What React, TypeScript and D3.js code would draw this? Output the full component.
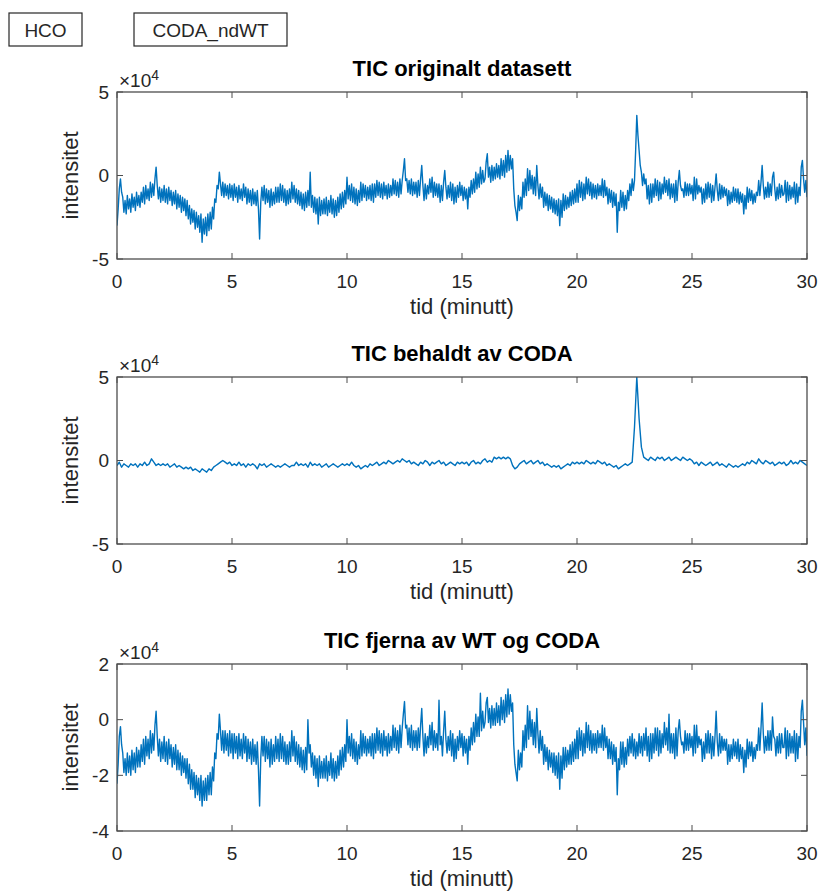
import * as d3 from "d3";

// values in units of 1e4; originalt and fjerna sampled every 0.05 min, behaldt every 0.1 min
const denseStep = 0.05;
const coarseStep = 0.1;

const originalTic = [
  -3.0, -2.0, -0.8, -0.2, -1.0, -1.3, -2.2, -1.5, -2.3, -1.2, -2.0, -1.4, -2.2, -1.1, -1.9, -1.3, -2.1, -1.0, -1.8, -1.2,
  -1.9, -1.0, -1.6, -0.7, -1.7, -0.6, -1.4, -0.8, -1.5, -0.4, -1.3, -0.5, -1.2, -0.2, 0.5, -0.6, -1.4, -0.7, -1.6, -0.8,
  -1.5, -0.6, -1.6, -0.8, -1.7, -0.7, -1.5, -0.9, -1.8, -1.0, -1.7, -0.9, -2.0, -1.1, -1.9, -1.2, -2.2, -1.3, -2.1, -1.4,
  -2.4, -1.5, -2.6, -1.8, -2.9, -2.0, -2.8, -2.1, -3.2, -2.2, -3.1, -2.4, -3.4, -2.3, -4.0, -2.6, -3.5, -2.5, -3.6, -2.3,
  -3.3, -2.2, -3.2, -1.9, -2.6, -1.4, -1.6, -0.6, -0.8, 0.2, -0.5, -1.2, -0.4, -1.3, -0.5, -1.2, -0.6, -1.4, -0.5, -1.3,
  -0.6, -1.5, -0.5, -1.3, -0.7, -1.6, -0.6, -1.4, -0.8, -1.5, -0.5, -1.3, -0.7, -1.7, -0.8, -1.6, -0.9, -1.8, -0.8, -1.7,
  -1.0, -1.8, -0.9, -2.0, -3.8, -1.6, -0.7, -1.5, -0.6, -1.7, -0.8, -1.6, -0.9, -1.9, -0.8, -1.8, -1.0, -1.7, -0.7, -1.6,
  -0.7, -1.6, -0.5, -1.5, -0.6, -1.6, -0.8, -1.8, -0.9, -1.7, -0.8, -1.6, -0.4, -1.4, -0.6, -1.6, -0.8, -1.7, -0.9, -1.8,
  -1.0, -2.0, -1.1, -2.1, -1.0, -1.9, -0.9, -1.8, 0.2, -1.9, -1.2, -2.2, -1.3, -2.3, -1.4, -2.9, -1.3, -2.4, -1.5, -2.3,
  -1.4, -2.3, -1.3, -2.4, -1.5, -2.2, -1.2, -2.3, -1.4, -2.5, -1.5, -2.4, -1.3, -2.2, -1.1, -2.0, -1.0, -1.9, -0.9, -1.7,
  -0.1, -1.4, -0.6, -1.5, -0.5, -1.6, -0.7, -1.7, -0.8, -1.8, -0.9, -1.6, -0.4, -1.5, -0.5, -1.3, -0.6, -1.5, -0.7, -1.4,
  -0.6, -1.5, -0.5, -1.6, -0.5, -1.3, -0.3, -1.2, -0.4, -1.3, -0.5, -1.4, -0.4, -1.2, -0.6, -1.4, -0.5, -1.3, -0.6, -1.2,
  -0.2, -1.1, -0.3, -1.2, -0.4, -1.3, -0.2, -1.1, -0.3, 0.3, 1.0, -0.3, -0.2, -1.0, -0.3, -1.1, -0.2, -1.2, -0.4, -1.1,
  -0.4, -1.3, -0.3, -1.2, -0.2, 0.6, -0.6, -1.5, -0.5, -1.4, -0.6, -1.1, -0.2, -1.0, -0.1, -1.3, -0.4, -1.2, -0.5, -1.3,
  -0.5, -1.6, -0.6, -1.5, -0.4, 0.3, -0.7, -1.4, -0.6, -1.3, -0.4, -1.5, -0.5, -1.7, -0.7, -1.6, -0.6, -1.3, -0.4, -1.2,
  -0.6, -1.5, -0.7, -1.4, -0.8, -2.0, -0.7, -1.3, -0.3, -1.1, -0.2, -1.0, 0.2, -0.8, 0.1, -0.7, 0.5, -0.5, 0.3, -0.4,
  -0.2, 0.8, 1.3, -0.1, 0.5, -0.4, 0.6, -0.3, 0.5, -0.2, 0.7, -0.1, 0.6, -0.2, 1.0, 0.0, 0.9, -0.1, 1.2, 0.2,
  1.5, 0.3, 1.2, 0.4, 1.0, -0.8, -1.8, -2.2, -2.7, -1.2, -2.1, -1.3, -2.0, -0.4, -1.3, -0.2, -1.2, 0.4, -0.9, 0.3,
  -0.8, 0.0, -1.1, -0.1, -1.2, 0.6, -0.6, -1.4, -0.5, -1.3, -0.7, -1.9, -1.0, -1.8, -1.1, -2.1, -1.2, -2.0, -1.3, -2.2,
  -1.4, -2.3, -1.5, -2.4, -1.4, -3.0, -1.5, -2.5, -1.1, -2.1, -1.2, -2.0, -1.3, -1.9, -1.0, -1.8, -0.9, -1.7, -0.8, -1.6,
  -0.5, -1.6, -0.3, -1.3, -0.4, -1.5, -0.5, -1.4, -0.1, -1.1, -0.2, -1.2, -0.4, -1.4, -0.5, -1.3, -0.6, -1.4, -0.5, -1.2,
  -0.6, -1.2, -0.2, -1.3, -0.3, -1.2, -0.7, -1.7, -0.8, -1.6, -0.9, -1.9, -1.0, -1.8, -1.1, -3.4, -1.6, -2.1, -0.9, -1.9,
  -1.0, -2.1, -1.2, -2.0, -0.9, -1.5, -0.5, -1.2, -0.2, -0.9, -0.3, 1.5, 3.6, 2.4, 1.5, 0.6, 0.2, -0.6, 0.1, -0.5,
  -0.2, -1.4, -0.6, -1.7, -0.5, -1.6, -0.5, -1.3, -0.2, -1.2, -0.3, -1.5, -0.4, -1.4, -0.5, -1.1, -0.1, -1.0, -0.3, -1.2,
  -0.2, -1.4, -0.5, -1.3, -0.5, -1.6, -0.3, -1.5, -0.4, 0.3, -0.6, -0.9, -0.8, -1.3, -0.4, -1.2, -0.5, -1.2, -0.5, -1.1,
  -0.6, -1.5, -0.1, -1.4, -0.2, -1.1, -0.6, -1.0, -0.7, -1.7, -0.8, -1.6, -0.5, -1.4, -0.4, -1.3, -0.5, -1.6, -0.6, -1.5,
  -0.7, 0.1, -0.9, -1.5, -0.5, -1.4, -0.6, -1.3, -0.7, -1.2, -0.8, -1.8, -0.9, -1.7, -1.0, -1.6, -0.7, -1.5, -0.8, -1.6,
  -0.8, -1.7, -1.0, -1.6, -1.1, -2.3, -1.2, -2.0, -0.7, -1.6, -0.8, -1.5, -0.9, -1.7, -1.1, -1.6, -1.0, -1.2, -0.3, -1.2,
  -0.4, 0.6, -0.6, -1.4, -0.7, -1.3, -0.4, -1.3, -0.5, -1.2, -0.1, 0.2, -0.8, -1.5, -0.7, -1.4, -0.5, -1.3, -0.6, -1.2,
  -1.1, -0.3, -1.6, -0.4, -1.5, -0.6, -1.4, -0.7, -1.3, -0.4, -1.7, -0.5, -1.6, -0.7, -1.2, 0.5, 0.9, -0.2, -1.0, -0.3,
  -1.3,
];

const keptTic = [
  -0.3, -0.1, -0.4, -0.2, -0.3, -0.4, -0.2, -0.3, -0.2, -0.4,
  -0.2, -0.3, -0.1, -0.3, -0.2, 0.1, -0.1, -0.3, -0.2, -0.3,
  -0.2, -0.3, -0.2, -0.4, -0.3, -0.2, -0.4, -0.3, -0.4, -0.5,
  -0.4, -0.5, -0.4, -0.6, -0.5, -0.6, -0.7, -0.5, -0.6, -0.7,
  -0.5, -0.6, -0.4, -0.3, -0.2, -0.1, 0.0, -0.1, -0.2, -0.1,
  -0.3, -0.2, -0.3, -0.1, -0.3, -0.2, -0.4, -0.2, -0.3, -0.2,
  -0.3, -0.5, -0.2, -0.3, -0.2, -0.4, -0.3, -0.2, -0.3, -0.4,
  -0.3, -0.4, -0.3, -0.2, -0.3, -0.4, -0.3, -0.3, -0.1, -0.3,
  -0.2, -0.3, -0.2, -0.4, -0.1, -0.3, -0.2, -0.3, -0.2, -0.4,
  -0.3, -0.2, -0.4, -0.3, -0.2, -0.3, -0.4, -0.3, -0.2, -0.3,
  -0.2, -0.3, -0.1, -0.3, -0.4, -0.3, -0.5, -0.4, -0.3, -0.4,
  -0.2, -0.3, -0.2, -0.1, -0.3, -0.2, -0.1, -0.2, 0.0, -0.1,
  -0.2, -0.1, 0.0, -0.1, 0.1, 0.0, -0.1, 0.0, -0.2, -0.1,
  -0.2, -0.3, -0.1, -0.2, 0.0, -0.1, -0.3, -0.1, -0.2, -0.1,
  0.0, -0.2, -0.1, -0.3, -0.2, -0.1, -0.2, -0.3, -0.1, -0.2,
  -0.1, -0.2, -0.1, -0.3, -0.1, 0.0, -0.2, -0.1, -0.2, 0.0,
  0.1, -0.1, 0.0, -0.1, 0.2, 0.1, 0.2, 0.1, 0.2, 0.1,
  0.2, 0.1, -0.3, -0.5, -0.4, -0.2, -0.1, 0.0, -0.2, -0.1,
  0.0, -0.2, -0.1, 0.0, -0.2, -0.1, -0.3, -0.2, -0.3, -0.4,
  -0.3, -0.4, -0.3, -0.5, -0.4, -0.3, -0.2, -0.3, -0.1, -0.2,
  -0.1, -0.2, -0.1, -0.2, 0.0, -0.1, -0.2, -0.1, -0.2, 0.0,
  -0.1, -0.2, -0.1, -0.3, -0.2, -0.3, -0.4, -0.3, -0.5, -0.4,
  -0.3, -0.2, -0.3, -0.2, -0.1, 2.0, 5.0, 2.5, 0.8, 0.2,
  0.1, 0.0, 0.2, 0.1, 0.0, 0.2, 0.1, 0.2, 0.0, 0.1,
  0.2, 0.0, 0.1, 0.2, 0.1, 0.0, 0.2, 0.1, 0.0, 0.1,
  0.0, -0.2, -0.1, -0.3, -0.1, -0.2, -0.3, -0.2, -0.1, -0.3,
  -0.2, -0.1, -0.3, -0.2, -0.3, -0.4, -0.2, -0.3, -0.4, -0.3,
  -0.4, -0.3, -0.2, -0.3, -0.1, -0.2, 0.0, -0.1, -0.2, 0.1,
  -0.1, -0.2, 0.0, -0.1, -0.2, -0.1, -0.3, -0.2, -0.1, -0.2,
  -0.1, -0.3, -0.2, 0.0, -0.2, -0.1, -0.2, 0.0, -0.1, -0.2,
  -0.3,
];

const removedTic = [
  -2.3, -1.6, -0.6, -0.25, -0.9, -1.2, -1.9, -1.4, -2.0, -1.2, -1.9, -1.3, -2.0, -1.1, -1.8, -1.2, -1.9, -1.0, -1.7, -1.1,
  -1.7, -0.9, -1.5, -0.7, -1.6, -0.6, -1.3, -0.7, -1.4, -0.4, -1.2, -0.5, -1.1, -0.2, 0.3, -0.6, -1.3, -0.7, -1.5, -0.8,
  -1.4, -0.6, -1.5, -0.8, -1.6, -0.7, -1.4, -0.9, -1.7, -1.0, -1.6, -0.9, -1.8, -1.1, -1.8, -1.2, -2.0, -1.3, -1.9, -1.4,
  -2.1, -1.4, -2.3, -1.6, -2.5, -1.8, -2.5, -1.9, -2.8, -2.0, -2.7, -2.1, -2.9, -2.0, -3.1, -2.2, -2.9, -2.1, -2.9, -2.0,
  -2.7, -1.9, -2.7, -1.7, -2.2, -1.2, -1.4, -0.5, -0.7, 0.2, -0.4, -1.1, -0.4, -1.2, -0.4, -1.1, -0.5, -1.3, -0.4, -1.2,
  -0.5, -1.4, -0.5, -1.2, -0.6, -1.4, -0.5, -1.3, -0.7, -1.4, -0.5, -1.2, -0.6, -1.5, -0.7, -1.4, -0.8, -1.6, -0.7, -1.5,
  -0.9, -1.6, -0.8, -1.8, -3.1, -1.4, -0.6, -1.3, -0.6, -1.5, -0.7, -1.4, -0.8, -1.7, -0.7, -1.6, -0.9, -1.5, -0.6, -1.4,
  -0.7, -1.5, -0.5, -1.4, -0.6, -1.5, -0.8, -1.6, -0.9, -1.6, -0.8, -1.5, -0.4, -1.3, -0.6, -1.5, -0.8, -1.6, -0.9, -1.7,
  -1.0, -1.8, -1.1, -1.9, -1.0, -1.8, 0.0, -1.2, -0.9, -1.7, -1.2, -2.0, -1.3, -2.1, -1.4, -2.4, -1.3, -2.1, -1.5, -2.1,
  -1.4, -2.1, -1.3, -2.2, -1.5, -2.0, -1.2, -2.1, -1.4, -2.2, -1.5, -2.1, -1.3, -2.0, -1.1, -1.8, -1.0, -1.7, -0.9, -1.5,
  0.0, -1.2, -0.6, -1.3, -0.5, -1.4, -0.7, -1.5, -0.8, -1.6, -0.9, -1.4, -0.4, -1.3, -0.5, -1.2, -0.6, -1.3, -0.7, -1.2,
  -0.6, -1.3, -0.5, -1.4, -0.5, -1.2, -0.3, -1.1, -0.4, -1.2, -0.5, -1.3, -0.4, -1.1, -0.6, -1.3, -0.5, -1.2, -0.6, -1.1,
  -0.2, -1.0, -0.3, -1.1, -0.4, -1.2, -0.2, -1.0, -0.3, 0.2, 0.65, -0.3, -0.2, -0.9, -0.3, -1.0, -0.2, -1.1, -0.4, -1.0,
  -0.4, -1.1, -0.3, -1.0, -0.2, 0.4, -0.6, -1.3, -0.5, -1.2, -0.6, -1.0, -0.2, -0.9, -0.1, -1.1, -0.4, -1.0, -0.5, -1.1,
  0.7, -0.9, -0.6, -1.3, -0.4, 0.3, -0.7, -1.2, -0.6, -1.1, -0.4, -1.3, -0.5, -1.5, -0.7, -1.4, -0.6, -1.1, -0.4, -1.0,
  -0.5, -1.3, -0.6, -1.2, -0.7, -1.6, -0.6, -1.1, -0.3, -0.9, -0.1, -0.8, 0.2, -0.6, 0.1, -0.6, 0.95, -0.4, 0.3, -0.3,
  -0.1, 0.6, 0.8, -0.1, 0.4, -0.3, 0.5, -0.2, 0.4, -0.2, 0.6, -0.1, 0.5, -0.2, 0.8, 0.0, 0.7, -0.1, 0.9, 0.1,
  1.1, 0.2, 0.9, 0.3, 0.6, -0.9, -1.6, -1.9, -2.2, -1.1, -1.8, -1.2, -1.7, -0.4, -1.1, -0.2, -1.0, 0.5, -0.7, 0.3,
  -0.6, 0.0, -0.9, -0.1, -1.0, 0.4, -0.5, -1.2, -0.4, -1.1, -0.6, -1.6, -0.9, -1.5, -1.0, -1.8, -1.1, -1.7, -1.2, -1.9,
  -1.2, -2.0, -1.3, -2.1, -1.2, -2.5, -1.3, -2.1, -1.0, -1.8, -1.0, -1.7, -1.1, -1.6, -0.9, -1.6, -0.8, -1.5, -0.7, -1.4,
  -0.4, -1.4, -0.3, -1.1, -0.4, -1.3, -0.5, -1.2, -0.1, -1.0, -0.2, -1.1, -0.4, -1.2, -0.5, -1.1, -0.5, -1.2, -0.4, -1.0,
  -0.5, -1.0, -0.2, -1.1, -0.3, -1.0, -0.6, -1.4, -0.7, -1.4, -0.8, -1.6, -0.9, -1.5, -1.0, -2.7, -1.4, -1.8, -0.8, -1.6,
  -0.8, -1.7, -1.0, -1.6, -0.7, -1.3, -0.6, -1.2, -0.5, -1.3, -0.7, -1.4, -0.8, -1.3, -0.5, -1.2, -0.6, -1.3, -0.5, -1.1,
  -0.3, -1.3, -0.6, -1.5, -0.5, -1.4, -0.5, -1.2, -0.3, -1.1, -0.3, -1.3, -0.4, -1.2, -0.5, -1.0, -0.1, -0.9, -0.3, -1.1,
  0.2, -1.2, -0.5, -1.2, -0.5, -1.4, -0.3, -1.3, -0.4, 0.0, -0.6, -0.9, -0.8, -1.2, -0.4, -1.1, -0.5, -1.1, -0.5, -1.0,
  -0.6, -1.3, -0.2, -1.2, -0.2, -1.0, -0.6, -0.9, -0.7, -1.5, -0.8, -1.4, -0.5, -1.2, -0.4, -1.2, -0.5, -1.4, -0.6, -1.3,
  -0.6, 0.3, -0.8, -1.3, -0.5, -1.2, -0.6, -1.1, -0.7, -1.1, -0.7, -1.6, -0.9, -1.5, -0.9, -1.4, -0.7, -1.3, -0.8, -1.4,
  -0.7, -1.5, -0.9, -1.4, -1.0, -1.9, -1.1, -1.7, -0.7, -1.4, -0.8, -1.3, -0.8, -1.5, -1.0, -1.4, -0.9, -1.1, -0.3, -1.1,
  -0.3, 0.6, -0.5, -1.2, -0.6, -1.1, -0.4, -1.1, -0.4, -1.1, 0.1, -0.6, -0.7, -1.3, -0.6, -1.2, -0.5, -1.2, -0.5, -1.0,
  -1.0, -0.3, -1.4, -0.4, -1.3, -0.5, -1.2, -0.6, -1.2, -0.4, -1.5, -0.5, -1.4, -0.6, -1.0, 0.3, 0.7, -0.1, -0.9, -0.3,
  -1.3,
];

const xTicks = [0, 5, 10, 15, 20, 25, 30];
const yTicksWide = [-5, 0, 5];
const yTicksRemoved = [-4, -2, 0, 2];

const legendLabels = ["HCO", "CODA_ndWT"];

const panels = [
  { title: "TIC originalt datasett", values: originalTic, step: denseStep, domain: [-5, 5], ticks: yTicksWide, top: 92 },
  { title: "TIC behaldt av CODA", values: keptTic, step: coarseStep, domain: [-5, 5], ticks: yTicksWide, top: 377 },
  { title: "TIC fjerna av WT og CODA", values: removedTic, step: denseStep, domain: [-4, 2], ticks: yTicksRemoved, top: 664 },
];

const W = 824;
const H = 892;
const left = 117;
const right = 807;
const plotH = 167;
const axisColor = "#4d4d4d";
const textColor = "#262626";
const lineColor = "#0072BD";
const font = "'Liberation Sans', Arial, Helvetica, sans-serif";

function Panel({ p }: { p: (typeof panels)[number] }) {
  const x = d3.scaleLinear().domain([0, 30]).range([left, right]);
  const y = d3.scaleLinear().domain(p.domain).range([p.top + plotH, p.top]);
  const line = d3
    .line<number>()
    .x((_, i) => x(i * p.step))
    .y((d) => y(d));
  const bottom = p.top + plotH;
  const tl = 6;
  return (
    <g>
      <defs>
        <clipPath id={`clip-${p.top}`}>
          <rect x={left} y={p.top} width={right - left} height={plotH} />
        </clipPath>
      </defs>
      <path
        d={line(p.values) ?? ""}
        fill="none"
        stroke={lineColor}
        strokeWidth={1.4}
        strokeLinejoin="round"
        clipPath={`url(#clip-${p.top})`}
      />
      <rect x={left} y={p.top} width={right - left} height={plotH} fill="none" stroke={axisColor} strokeWidth={1.3} />
      {xTicks.map((t) => (
        <g key={`x${t}`}>
          <line x1={x(t)} x2={x(t)} y1={bottom} y2={bottom - tl} stroke={axisColor} />
          <line x1={x(t)} x2={x(t)} y1={p.top} y2={p.top + tl} stroke={axisColor} />
          <text x={x(t)} y={bottom + 29} textAnchor="middle" fontSize={19} fill={textColor}>
            {t}
          </text>
        </g>
      ))}
      {p.ticks.map((t) => (
        <g key={`y${t}`}>
          <line x1={left} x2={left + tl} y1={y(t)} y2={y(t)} stroke={axisColor} />
          <line x1={right} x2={right - tl} y1={y(t)} y2={y(t)} stroke={axisColor} />
          <text x={left - 8} y={y(t)} dy="0.35em" textAnchor="end" fontSize={19} fill={textColor}>
            {t}
          </text>
        </g>
      ))}
      <text x={left + 2} y={p.top - 5} fontSize={19} fill={textColor}>
        ×10
        <tspan fontSize={14} dy={-7}>
          4
        </tspan>
      </text>
      <text x={(left + right) / 2} y={p.top - 16} textAnchor="middle" fontSize={22} fontWeight="bold" fill="#000">
        {p.title}
      </text>
      <text x={(left + right) / 2} y={bottom + 55} textAnchor="middle" fontSize={22} fill={textColor}>
        tid (minutt)
      </text>
      <text
        transform={`translate(78, ${p.top + plotH / 2}) rotate(-90)`}
        textAnchor="middle"
        fontSize={22}
        fill={textColor}
      >
        intensitet
      </text>
    </g>
  );
}

export default function App() {
  const boxes = [
    { label: legendLabels[0], x: 9, w: 73 },
    { label: legendLabels[1], x: 134, w: 153 },
  ];
  return (
    <div style={{ position: "absolute", left: 0, top: 0 }}>
      <svg width={W} height={H} style={{ display: "block", fontFamily: font, background: "#fff" }}>
        <rect width={W} height={H} fill="#fff" />
        {boxes.map((b) => (
          <g key={b.label}>
            <rect x={b.x} y={13} width={b.w} height={33} fill="#fff" stroke={textColor} strokeWidth={1.2} />
            <text x={b.x + b.w / 2} y={30} dy="0.35em" textAnchor="middle" fontSize={19} fill={textColor}>
              {b.label}
            </text>
          </g>
        ))}
        {panels.map((p) => (
          <Panel key={p.title} p={p} />
        ))}
      </svg>
    </div>
  );
}
